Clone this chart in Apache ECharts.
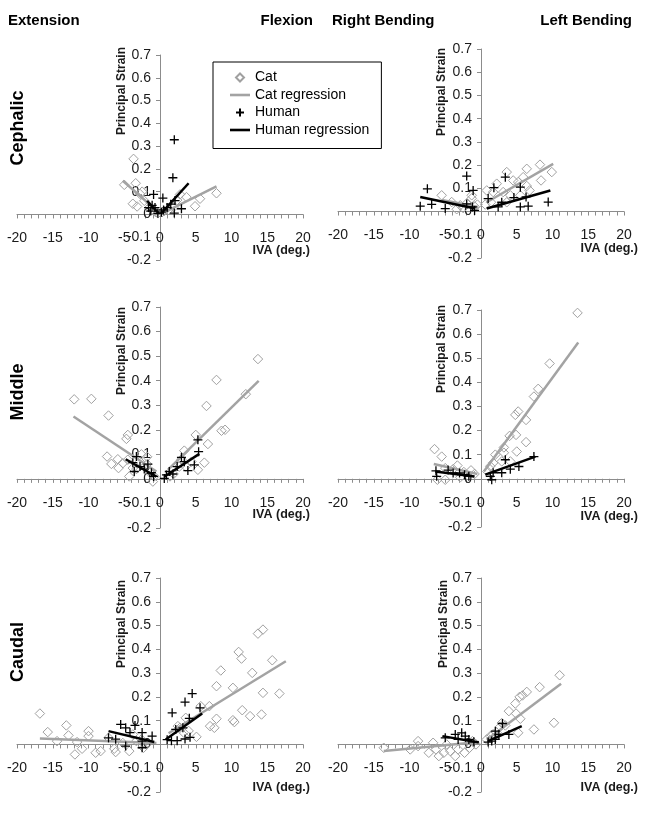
<!DOCTYPE html>
<html>
<head>
<meta charset="utf-8">
<script src="https://cdn.jsdelivr.net/npm/echarts@6/dist/echarts.min.js"></script>
<style>
html,body{margin:0;padding:0;background:#fff;}
#chart{width:650px;height:814px;}
</style>
</head>
<body>
<div id="chart"></div>
<script>
// ---------- DATA ----------
const rowNames = ['Cephalic', 'Middle', 'Caudal'];
const colHeaders = ['Extension', 'Flexion', 'Right Bending', 'Left Bending'];
const xRange = [-20, 20];
const yRange = [-0.2, 0.7];

// Cephalic – extension / flexion
const cephalicCat = [[-5.0,0.13],[-3.7,0.244],[-3.4,0.137],[-3.8,0.047],[-3.2,0.035],[-2.8,0.09],[-2.5,0.1],[-2.2,0.06],[-1.5,0.03],[-1.0,0.02],[-0.6,0.01],[-0.3,0.005],
  [0.3,0.01],[0.6,0.015],[1.2,0.02],[1.9,0.032],[2.4,0.063],[2.8,0.088],[3.7,0.076],[4.9,0.036],[5.6,0.069],[7.9,0.093]];
const cephalicHuman = [[2.0,0.328],[1.8,0.161],[-0.9,0.088],[0.4,0.072],[2.1,0.061],[3.0,0.025],[2.0,0.006],[-1.1,0.04],[-0.7,0.03],[-1.6,0.03],[0.2,0.01],[0.5,0.02],[1.0,0.03],[-0.3,0.005],[1.5,0.045],[-1.3,0.015]];
const cephalicCatRegNeg = [[-5.2,0.148],[-0.3,0.012]];
const cephalicCatRegPos = [[0.8,0.012],[7.9,0.123]];
const cephalicHumRegNeg = [[-1.8,0.06],[-0.2,0.005]];
const cephalicHumRegPos = [[0.2,0.006],[4.0,0.137]];

// Cephalic – right / left bending
const cephalicBendCat = [[-5.5,0.07],[-4.1,0.041],[-3.4,0.01],[-2.9,0.027],[-2.5,0.015],[-2.0,0.035],[-1.3,0.057],[-1.3,0.07],[-0.9,0.022],[-0.5,0.03],
  [0.6,0.03],[0.8,0.091],[1.4,0.04],[1.7,0.084],[2.2,0.12],[3.1,0.084],[3.6,0.17],[3.6,0.04],[4.1,0.07],[4.5,0.134],[5.2,0.127],[5.5,0.07],[5.9,0.148],[6.4,0.184],[6.4,0.11],[6.8,0.091],[8.25,0.202],[8.4,0.134],[9.9,0.17]];
const cephalicBendHuman = [[-8.5,0.023],[-7.5,0.098],[-6.9,0.031],[-5.0,0.013],[-2.0,0.153],[-2.0,0.033],[-1.2,0.02],[-1.1,0.091],[-0.9,0.005],
  [1.0,0.056],[1.8,0.103],[2.4,0.02],[2.9,0.04],[3.4,0.148],[4.6,0.06],[5.5,0.105],[5.5,0.02],[6.3,0.063],[6.6,0.023],[9.4,0.041]];
const cephalicBendCatRegNeg = [[-5.5,0.05],[-0.4,0.02]];
const cephalicBendCatRegPos = [[0.8,0.04],[10.1,0.205]];
const cephalicBendHumRegNeg = [[-8.5,0.063],[-0.8,0.013]];
const cephalicBendHumRegPos = [[0.8,0.013],[9.7,0.091]];

// Middle – extension / flexion
const middleCat = [[-12.0,0.324],[-9.6,0.326],[-7.2,0.258],[-4.7,0.163],[-4.5,0.179],[-7.4,0.091],[-6.8,0.061],[-5.9,0.08],[-5.8,0.044],[-5.2,0.064],[-4.5,0.078],[-3.8,0.044],[-4.3,0.01],[-3.3,0.04],[-2.8,0.07],[-2.6,0.1],[-1.8,0.09],[-1.8,0.06],[-1.4,0.025],[-1.0,-0.011],[-0.8,0.01],
  [1.4,0.01],[1.9,0.02],[2.7,0.05],[3.0,0.08],[3.4,0.115],[3.6,0.05],[4.4,0.07],[5.0,0.179],[5.3,0.037],[6.2,0.066],[6.5,0.297],[6.7,0.142],[7.9,0.403],[8.6,0.196],[9.1,0.2],[12.0,0.345],[13.7,0.488]];
const middleHuman = [[-3.8,0.066],[-3.6,0.03],[-3.3,0.091],[-2.8,0.05],[-2.2,0.04],[-1.7,0.06],[-1.2,0.025],[-0.9,0.01],
  [0.6,0.002],[0.9,0.016],[1.3,0.03],[1.8,0.02],[2.4,0.05],[3.0,0.088],[3.4,0.07],[3.9,0.034],[4.8,0.057],[5.3,0.159],[5.4,0.111]];
const middleCatRegNeg = [[-12.1,0.254],[-0.5,0.03]];
const middleCatRegPos = [[1.1,0.037],[13.8,0.399]];
const middleHumRegNeg = [[-4.8,0.08],[-0.5,0.009]];
const middleHumRegPos = [[0.6,0.009],[5.5,0.102]];

// Middle – right / left bending
const middleBendCat = [[-6.5,0.123],[-5.5,0.092],[-5.0,0.044],[-6.1,-0.004],[-5.0,-0.004],[-3.9,0.04],[-3.3,0.055],[-2.9,0.006],[-2.4,0.028],[-1.4,0.035],[-0.9,0.02],
  [0.9,0.03],[1.3,0.052],[1.7,0.066],[2.0,0.1],[2.9,0.072],[3.2,0.13],[3.2,0.108],[4.0,0.178],[4.1,0.072],[4.8,0.265],[4.9,0.182],[5.0,0.113],[5.2,0.279],[6.3,0.244],[6.3,0.152],[7.4,0.341],[8.0,0.373],[9.6,0.478],[13.5,0.688]];
const middleBendHuman = [[-6.3,0.033],[-6.2,0.01],[-4.6,0.036],[-3.9,0.024],[-3.0,0.024],[-2.3,0.017],[-1.7,0.011],
  [1.3,0.01],[1.5,-0.004],[1.7,0.025],[2.9,0.025],[3.4,0.079],[4.1,0.04],[5.3,0.051],[7.4,0.092]];
const middleBendCatRegNeg = [[-6.6,0.061],[-0.5,0.02]];
const middleBendCatRegPos = [[0.4,0.03],[13.6,0.565]];
const middleBendHumRegNeg = [[-6.4,0.03],[-0.9,0.009]];
const middleBendHumRegPos = [[0.6,0.017],[7.6,0.092]];

// Caudal – extension / flexion
const caudalCat = [[-16.8,0.13],[-15.7,0.052],[-14.4,0.014],[-13.1,0.08],[-12.8,0.038],[-11.9,-0.042],[-11.6,0.01],[-10.9,-0.018],[-10.0,0.056],[-10.0,0.035],[-9.0,-0.035],[-8.3,-0.028],[-7.2,0.028],[-6.4,-0.018],[-6.2,-0.032],[-5.2,0.006],[-4.3,-0.028],[-3.8,0.042],[-3.3,0.014],[-2.6,0.021],[-2.3,-0.014],[-1.9,0],
  [2.5,0.077],[2.8,0.07],[3.3,0.05],[3.6,0.112],[4.0,0.057],[5.1,0.032],[5.7,0.161],[6.9,0.161],[7.0,0.077],[7.6,0.07],[7.9,0.245],[7.9,0.108],[8.5,0.311],[10.2,0.238],[10.2,0.102],[10.4,0.094],[11.0,0.389],[11.4,0.361],[11.5,0.144],[12.6,0.119],[12.9,0.301],[13.7,0.466],[14.2,0.126],[14.4,0.483],[14.4,0.217],[15.7,0.354],[16.7,0.214]];
const caudalHuman = [[-7.2,0.028],[-6.2,0.022],[-5.5,0.084],[-4.8,0.07],[-4.8,-0.007],[-4.2,0.05],[-3.5,0.08],[-2.5,0.05],[-2.5,0.014],[-2.5,-0.014],[-1.1,0.035],
  [1.0,0.02],[1.6,0.016],[1.7,0.133],[2.2,0.063],[2.4,0.016],[3.2,0.07],[3.5,0.178],[3.5,0.023],[4.1,0.11],[4.2,0.03],[4.5,0.214],[5.6,0.154]];
const caudalCatRegNeg = [[-16.8,0.025],[-0.5,0.006]];
const caudalCatRegPos = [[1.2,0.047],[17.6,0.35]];
const caudalHumRegNeg = [[-7.2,0.056],[-0.8,0.01]];
const caudalHumRegPos = [[0.8,0.021],[5.9,0.13]];

// Caudal – right / left bending
const caudalBendCat = [[-13.6,-0.014],[-9.9,-0.021],[-8.8,0.014],[-8.8,-0.007],[-7.3,-0.035],[-6.7,0.007],[-6.3,-0.021],[-5.9,-0.049],[-5.2,-0.035],[-4.8,0],[-4.3,-0.028],[-3.6,-0.049],[-3.2,-0.021],[-2.3,-0.035],[-1.6,-0.014],[-1.2,0.014],[-0.7,0],
  [0.8,0.021],[1.3,0.035],[1.7,0.043],[2.2,0.05],[2.7,0.075],[2.9,0.09],[3.4,0.08],[3.9,0.14],[4.8,0.172],[4.9,0.13],[5.2,0.049],[5.4,0.2],[5.5,0.108],[5.8,0.206],[6.4,0.221],[7.4,0.063],[8.2,0.241],[10.2,0.091],[11.0,0.291]];
const caudalBendHuman = [[-5.0,0.028],[-3.6,0.042],[-3.2,0.021],[-2.7,0.049],[-2.2,0.035],[-1.7,0.021],[-1.0,0.011],
  [1.0,0.01],[1.5,0.014],[2.0,0.021],[2.0,0.056],[2.5,0.042],[3.0,0.088],[3.9,0.042]];
const caudalBendCatRegNeg = [[-13.6,-0.028],[-0.3,0.01]];
const caudalBendCatRegPos = [[0.8,0.02],[11.2,0.255]];
const caudalBendHumRegNeg = [[-5.4,0.035],[-0.3,0.008]];
const caudalBendHumRegPos = [[1.0,0.014],[5.7,0.077]];

// ---------- assembly ----------
const catSets = [cephalicCat, cephalicBendCat, middleCat, middleBendCat, caudalCat, caudalBendCat];
const humanSets = [cephalicHuman, cephalicBendHuman, middleHuman, middleBendHuman, caudalHuman, caudalBendHuman];
const catRegSets = [[cephalicCatRegNeg, cephalicCatRegPos],[cephalicBendCatRegNeg, cephalicBendCatRegPos],[middleCatRegNeg, middleCatRegPos],[middleBendCatRegNeg, middleBendCatRegPos],[caudalCatRegNeg, caudalCatRegPos],[caudalBendCatRegNeg, caudalBendCatRegPos]];
const humRegSets = [[cephalicHumRegNeg, cephalicHumRegPos],[cephalicBendHumRegNeg, cephalicBendHumRegPos],[middleHumRegNeg, middleHumRegPos],[middleBendHumRegNeg, middleBendHumRegPos],[caudalHumRegNeg, caudalHumRegPos],[caudalBendHumRegNeg, caudalBendHumRegPos]];

// layout (pixels)
const gridBoxes = [
  {left:17,  top:55,  width:286, height:205},
  {left:338, top:49,  width:286, height:209},
  {left:17,  top:307, width:286, height:221},
  {left:338, top:310, width:286, height:217},
  {left:17,  top:578, width:286, height:214},
  {left:338, top:578, width:286, height:214}
];
const strainLabelPos = [[122,91],[442,92],[122,351],[442,349],[122,624],[444,624]];
const ivaLabelPos = [[310,251],[638,249],[310,515],[638,517],[310,788],[638,788]];
const rowLabelPos = [[18,128],[18,392],[18,652]];

const FONT = '"Liberation Sans", Arial, sans-serif';
const AXIS = '#8c8c8c';
const CAT = '#a0a0a0';
const CATREG = '#a3a3a3';
const DIAMOND = 'path://M5,0L10,5L5,10L0,5Z';
const PLUS = 'path://M5,0L5,10M0,5L10,5';
const BAR = 'path://M0,0L20,0L20,2.6L0,2.6Z';

const grids = [], xAxes = [], yAxes = [], series = [];
gridBoxes.forEach((g, i) => {
  grids.push(Object.assign({containLabel:false, outerBoundsMode:'none'}, g));
  // place axes through the origin: shift them inward by the distance of zero from the edge
  const yShift = (0 - yRange[0]) / (yRange[1] - yRange[0]) * g.height;
  const xShift = (0 - xRange[0]) / (xRange[1] - xRange[0]) * g.width;
  xAxes.push({
    type:'value', gridIndex:i, min:xRange[0], max:xRange[1], interval:5,
    position:'bottom', offset:-yShift,
    axisLine:{show:true, onZero:false, lineStyle:{color:AXIS, width:1}},
    axisTick:{show:true, length:4, lineStyle:{color:AXIS}},
    minorTick:{show:true, splitNumber:5, length:4, lineStyle:{color:AXIS}},
    axisLabel:{margin:17, fontSize:14, fontFamily:FONT, color:'#1a1a1a'},
    splitLine:{show:false}
  });
  yAxes.push({
    type:'value', gridIndex:i, min:yRange[0], max:yRange[1], interval:0.1,
    position:'left', offset:-xShift,
    axisLine:{show:true, onZero:false, lineStyle:{color:AXIS, width:1}},
    axisTick:{show:true, length:4, lineStyle:{color:AXIS}},
    axisLabel:{margin:9, fontSize:14, fontFamily:FONT, color:'#1a1a1a',
      formatter:v => String(Math.round(v*10)/10)},
    splitLine:{show:false}
  });
  series.push({
    name:'Cat', type:'scatter', xAxisIndex:i, yAxisIndex:i, data:catSets[i],
    symbol:DIAMOND, symbolSize:9.5,
    itemStyle:{color:'rgba(0,0,0,0)', borderColor:CAT, borderWidth:1, opacity:1},
    z:2
  });
  catRegSets[i].forEach(seg => series.push({
    name:'Cat regression', type:'line', xAxisIndex:i, yAxisIndex:i, data:seg,
    symbol:'none', showSymbol:false, lineStyle:{color:CATREG, width:2.5}, itemStyle:{color:CATREG}, z:3
  }));
  series.push({
    name:'Human', type:'scatter', xAxisIndex:i, yAxisIndex:i, data:humanSets[i],
    symbol:PLUS, symbolSize:9,
    itemStyle:{color:'rgba(0,0,0,0)', borderColor:'#000', borderWidth:1.3, opacity:1},
    z:4
  });
  humRegSets[i].forEach(seg => series.push({
    name:'Human regression', type:'line', xAxisIndex:i, yAxisIndex:i, data:seg,
    symbol:'none', showSymbol:false, lineStyle:{color:'#000', width:2.5}, itemStyle:{color:'#000'}, z:5
  }));
});

const graphics = [];
const hdrFont = 'bold 15px ' + FONT;
graphics.push({type:'text', x:8, y:21, style:{text:colHeaders[0], font:hdrFont, fill:'#000', align:'left', verticalAlign:'middle'}});
graphics.push({type:'text', x:313, y:21, style:{text:colHeaders[1], font:hdrFont, fill:'#000', align:'right', verticalAlign:'middle'}});
graphics.push({type:'text', x:332, y:21, style:{text:colHeaders[2], font:hdrFont, fill:'#000', align:'left', verticalAlign:'middle'}});
graphics.push({type:'text', x:632, y:21, style:{text:colHeaders[3], font:hdrFont, fill:'#000', align:'right', verticalAlign:'middle'}});
rowNames.forEach((r, i) => graphics.push({
  type:'text', x:rowLabelPos[i][0], y:rowLabelPos[i][1], rotation:Math.PI/2,
  style:{text:r, font:'bold 18px ' + FONT, fill:'#000', align:'center', verticalAlign:'middle'}
}));
strainLabelPos.forEach(p => graphics.push({
  type:'text', x:p[0], y:p[1], rotation:Math.PI/2,
  style:{text:'Principal Strain', font:'bold 12px ' + FONT, fill:'#1a1a1a', align:'center', verticalAlign:'middle'}
}));
ivaLabelPos.forEach(p => graphics.push({
  type:'text', x:p[0], y:p[1],
  style:{text:'IVA (deg.)', font:'bold 12.5px ' + FONT, fill:'#1a1a1a', align:'right', verticalAlign:'middle'}
}));

const chart = echarts.init(document.getElementById('chart'), null, {renderer:'canvas'});
chart.setOption({
  animation:false,
  backgroundColor:'#fff',
  grid:grids, xAxis:xAxes, yAxis:yAxes, series:series,
  legend:{
    orient:'vertical', left:213, top:62,
    padding:[8,12,11,17], itemGap:2.5, itemWidth:20, itemHeight:8,
    borderColor:'#000', borderWidth:1, backgroundColor:'#fff',
    selectedMode:false, symbolKeepAspect:true,
    textStyle:{fontSize:14, fontFamily:FONT, color:'#000', lineHeight:15},
    data:[
      {name:'Cat', icon:DIAMOND},
      {name:'Cat regression', icon:BAR, itemStyle:{color:CATREG, borderWidth:0}},
      {name:'Human', icon:PLUS},
      {name:'Human regression', icon:BAR, itemStyle:{color:'#000', borderWidth:0}}
    ],
    z:20
  },
  graphic:graphics
});
</script>
</body>
</html>
